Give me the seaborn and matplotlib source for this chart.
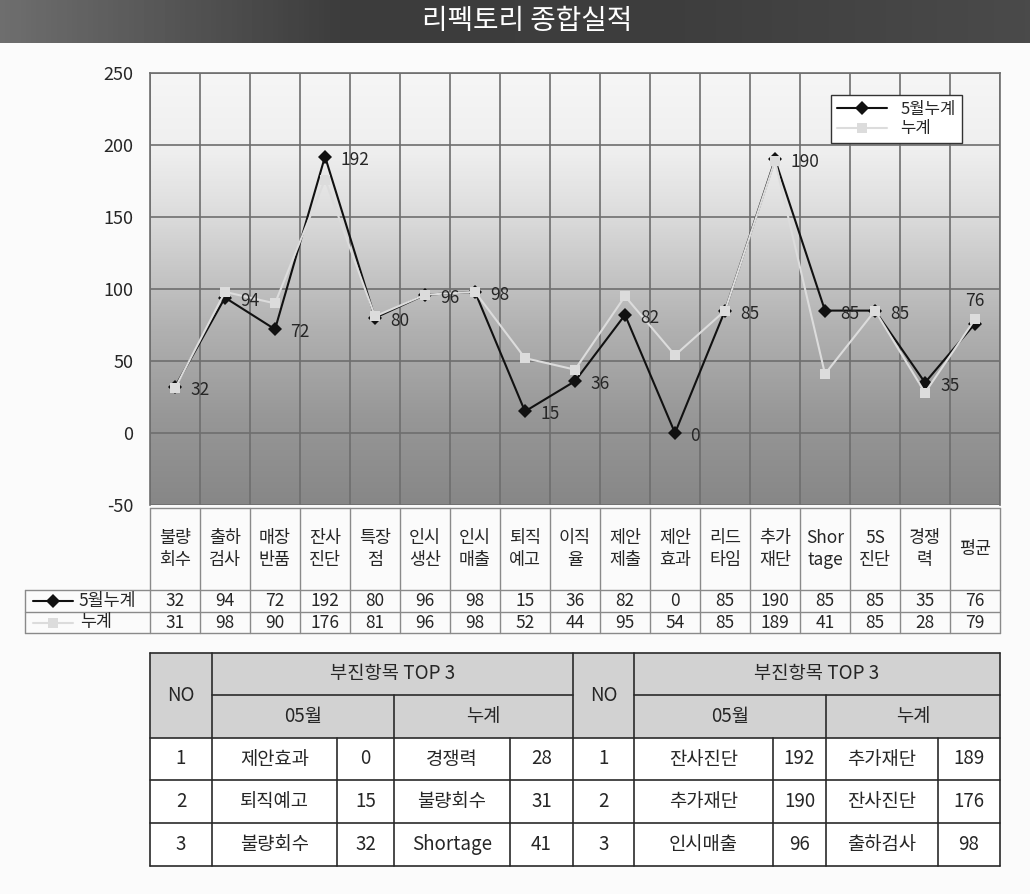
import numpy as np
import pandas as pd
import seaborn as sns
import matplotlib.pyplot as plt
from matplotlib.colors import LinearSegmentedColormap
from matplotlib.lines import Line2D
from matplotlib.patches import Rectangle

# ---- data ----
categories = ['불량\n회수', '출하\n검사', '매장\n반품', '잔사\n진단', '특장\n점', '인시\n생산',
              '인시\n매출', '퇴직\n예고', '이직\n율', '제안\n제출', '제안\n효과', '리드\n타임',
              '추가\n재단', 'Shor\ntage', '5S\n진단', '경쟁\n력', '평균']
may_cum = [32, 94, 72, 192, 80, 96, 98, 15, 36, 82, 0, 85, 190, 85, 85, 35, 76]
total_cum = [31, 98, 90, 176, 81, 96, 98, 52, 44, 95, 54, 85, 189, 41, 85, 28, 79]
series_names = ['5월누계', '누계']
y_ticks = [-50, 0, 50, 100, 150, 200, 250]

rank_no = ['1', '2', '3']
low_may_items = ['제안효과', '퇴직예고', '불량회수']
low_may_vals = [0, 15, 32]
low_cum_items = ['경쟁력', '불량회수', 'Shortage']
low_cum_vals = [28, 31, 41]
high_may_items = ['잔사진단', '추가재단', '인시매출']
high_may_vals = [192, 190, 96]
high_cum_items = ['추가재단', '잔사진단', '출하검사']
high_cum_vals = [189, 176, 98]

title = '리펙토리 종합실적'

sns.set_theme(style='white')
plt.rcParams['font.family'] = ['Noto Sans CJK KR', 'DejaVu Sans']

W, H = 1030, 894
fig = plt.figure(figsize=(W / 100, H / 100), dpi=100)
fig.patch.set_facecolor('#fbfbfb')

dark, light = '#111111', '#dcdcdc'


def px_axes(x0, y0, x1, y1):
    return fig.add_axes([x0 / W, 1 - y1 / H, (x1 - x0) / W, (y1 - y0) / H])


# overlay in pixel coordinates for title bar and tables
ov = fig.add_axes([0, 0, 1, 1])
ov.set_xlim(0, W)
ov.set_ylim(H, 0)
ov.axis('off')

# title bar
bar = np.linspace(0, 1, 200).reshape(1, -1)
bar_cmap = LinearSegmentedColormap.from_list('bar', ['#6e6e6e', '#3c3c3c', '#3e3e3e', '#4a4a4a'])
ov.imshow(bar, extent=[0, W, 43, 0], aspect='auto', cmap=bar_cmap, zorder=1)
ov.text(W / 2 + 12, 21, title, color='white', fontsize=20, ha='center', va='center', zorder=2)

# ---- line chart ----
ax = px_axes(150, 73, 1000, 505)
n = len(categories)
x_idx = np.arange(n)

grad = np.linspace(0, 1, 300).reshape(-1, 1)
bg_cmap = LinearSegmentedColormap.from_list(
    'bg', [(0, '#878787'), (0.2, '#979797'), (0.4, '#b0b0b0'), (0.55, '#c8c8c8'),
           (0.7, '#e0e0e0'), (0.82, '#efefef'), (1, '#f6f6f6')])
ax.imshow(grad, extent=[-0.5, n - 0.5, -50, 250], origin='lower', aspect='auto',
          cmap=bg_cmap, zorder=0)

df = pd.DataFrame({
    'idx': np.concatenate([x_idx, x_idx]),
    'value': may_cum + total_cum,
    'series': [series_names[0]] * n + [series_names[1]] * n,
})
sns.lineplot(data=df, x='idx', y='value', hue='series', style='series',
             markers={series_names[0]: 'D', series_names[1]: 's'}, dashes=False,
             palette={series_names[0]: dark, series_names[1]: light},
             markersize=7, linewidth=1.5, markeredgewidth=0, sort=False,
             legend=False, ax=ax, zorder=3)

for i, v in enumerate(may_cum):
    if i == n - 1:
        ax.annotate(str(v), (i, v), xytext=(0, 14), textcoords='offset pixels',
                    ha='center', va='bottom', fontsize=12.5, zorder=5)
    else:
        ax.annotate(str(v), (i, v), xytext=(15, -3), textcoords='offset pixels',
                    ha='left', va='center', fontsize=12.5, zorder=5)

ax.set_xlim(-0.5, n - 0.5)
ax.set_ylim(-50, 250)
ax.set_xticks(np.arange(-0.5, n, 1))
ax.set_xticklabels([])
ax.set_yticks(y_ticks)
ax.set_yticklabels([str(t) for t in y_ticks], fontsize=13, fontweight='medium')
ax.tick_params(axis='both', length=0, pad=12)
ax.grid(True, color='#6e6e6e', linewidth=1.2)
for ln in ax.get_xgridlines() + ax.get_ygridlines():
    ln.set_zorder(1)
for s in ax.spines.values():
    s.set_color('#6e6e6e')
    s.set_linewidth(1.2)
ax.spines['bottom'].set_visible(False)
ax.set_xlabel('')
ax.set_ylabel('')

handles = [Line2D([], [], color=dark, marker='D', markersize=7, lw=1.5, mew=0),
           Line2D([], [], color=light, marker='s', markersize=7, lw=1.5, mew=0)]
leg = ax.legend(handles, series_names, loc='upper right', bbox_to_anchor=(0.955, 0.949),
                borderaxespad=0, fontsize=12, frameon=True, fancybox=False, framealpha=1,
                edgecolor='#333333', handlelength=3, borderpad=0.35, labelspacing=0.15)
leg.get_frame().set_linewidth(1.0)
leg.set_zorder(6)

# ---- data table under the chart ----
x0, cw = 150, 50
gcol = '#8a8a8a'
tfs = 12.5
ov.plot([x0, x0 + cw * n], [508, 508], color=gcol, lw=1)
for y in [590, 612, 633]:
    ov.plot([25, x0 + cw * n], [y, y], color=gcol, lw=1)
ov.plot([25, 25], [590, 633], color=gcol, lw=1)
for k in range(n + 1):
    ov.plot([x0 + cw * k, x0 + cw * k], [508, 633], color=gcol, lw=1)
for k, cat in enumerate(categories):
    cx = x0 + cw * k + cw / 2
    ov.text(cx, 549, cat, ha='center', va='center', fontsize=tfs, linespacing=1.25)
    ov.text(cx, 601, str(may_cum[k]), ha='center', va='center', fontsize=tfs)
    ov.text(cx, 622.5, str(total_cum[k]), ha='center', va='center', fontsize=tfs)
ov.plot([33, 73], [601, 601], color=dark, lw=1.5)
ov.plot([53], [601], marker='D', color=dark, markersize=7, mew=0)
ov.plot([33, 73], [622.5, 622.5], color=light, lw=1.5)
ov.plot([53], [622.5], marker='s', color=light, markersize=7, mew=0)
ov.text(78, 601, series_names[0], ha='left', va='center', fontsize=tfs)
ov.text(80, 622.5, series_names[1], ha='left', va='center', fontsize=tfs)

# ---- TOP 3 tables ----
xs = [150, 212, 337, 394, 510, 573, 634, 773, 826, 938, 1000]
ys = [653, 695, 738, 780, 823, 866]
bc = '#2a2a2a'
ov.add_patch(Rectangle((xs[0], ys[0]), xs[-1] - xs[0], ys[2] - ys[0],
                       facecolor='#d2d2d2', edgecolor='none', zorder=1))
ov.add_patch(Rectangle((xs[0], ys[2]), xs[-1] - xs[0], ys[-1] - ys[2],
                       facecolor='white', edgecolor='none', zorder=1))
for y in [ys[0], ys[2], ys[3], ys[4], ys[5]]:
    ov.plot([xs[0], xs[-1]], [y, y], color=bc, lw=1.2, zorder=2)
ov.plot([xs[1], xs[5]], [ys[1], ys[1]], color=bc, lw=1.2, zorder=2)
ov.plot([xs[6], xs[10]], [ys[1], ys[1]], color=bc, lw=1.2, zorder=2)
for x in [xs[0], xs[1], xs[5], xs[6], xs[10]]:
    ov.plot([x, x], [ys[0], ys[5]], color=bc, lw=1.2, zorder=2)
for x in [xs[3], xs[8]]:
    ov.plot([x, x], [ys[1], ys[5]], color=bc, lw=1.2, zorder=2)
for x in [xs[2], xs[4], xs[7], xs[9]]:
    ov.plot([x, x], [ys[2], ys[5]], color=bc, lw=1.2, zorder=2)

fs = 13.5
for base, items_a, vals_a, items_b, vals_b in [
        (0, low_may_items, low_may_vals, low_cum_items, low_cum_vals),
        (5, high_may_items, high_may_vals, high_cum_items, high_cum_vals)]:
    c = xs[base:base + 6]
    ov.text((c[0] + c[1]) / 2, (ys[0] + ys[2]) / 2, 'NO', ha='center', va='center', fontsize=fs, zorder=3)
    ov.text((c[1] + c[5]) / 2, (ys[0] + ys[1]) / 2, '부진항목 TOP 3', ha='center', va='center', fontsize=fs, zorder=3)
    ov.text((c[1] + c[3]) / 2, (ys[1] + ys[2]) / 2, '05월', ha='center', va='center', fontsize=fs, zorder=3)
    ov.text((c[3] + c[5]) / 2, (ys[1] + ys[2]) / 2, '누계', ha='center', va='center', fontsize=fs, zorder=3)
    for r in range(3):
        cy = (ys[2 + r] + ys[3 + r]) / 2
        ov.text((c[0] + c[1]) / 2, cy, rank_no[r], ha='center', va='center', fontsize=fs, zorder=3)
        ov.text((c[1] + c[2]) / 2, cy, items_a[r], ha='center', va='center', fontsize=fs, zorder=3)
        ov.text((c[2] + c[3]) / 2, cy, str(vals_a[r]), ha='center', va='center', fontsize=fs, zorder=3)
        ov.text((c[3] + c[4]) / 2, cy, items_b[r], ha='center', va='center', fontsize=fs, zorder=3)
        ov.text((c[4] + c[5]) / 2, cy, str(vals_b[r]), ha='center', va='center', fontsize=fs, zorder=3)

fig.savefig('out.png', dpi=100)
